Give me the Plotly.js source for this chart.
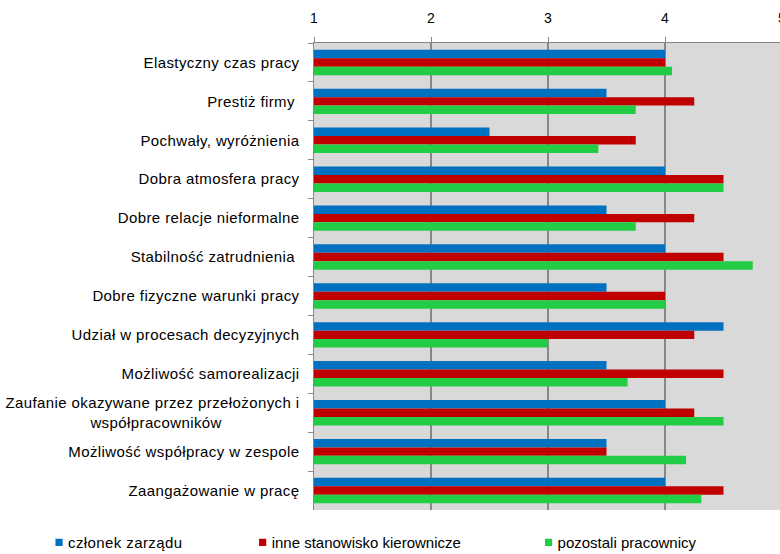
<!DOCTYPE html>
<html>
<head>
<meta charset="utf-8">
<script src="https://cdn.plot.ly/plotly-3.0.1.min.js"></script>
<style>
  html, body { margin: 0; padding: 0; overflow: hidden; background: #fff; }
  #chart { width: 800px; height: 554px; }
  /* slightly looser text, as in the original report graphics */
  #chart .ytick text, #chart .legendtext { letter-spacing: 0.4px; }
  /* smaller legend swatches, placed close to their labels */
  #chart .legendpoints path { transform: translate(31px, 0) scale(0.6); }
</style>
</head>
<body>
<div id="chart"></div>
<script>
// Motivating factors, mean rating (1–5) by respondent group
const categories = [
  "Elastyczny czas pracy",
  "Prestiż firmy ",
  "Pochwały, wyróżnienia",
  "Dobra atmosfera pracy",
  "Dobre relacje nieformalne",
  "Stabilność zatrudnienia ",
  "Dobre fizyczne warunki pracy",
  "Udział w procesach decyzyjnych",
  "Możliwość samorealizacji",
  "Zaufanie okazywane przez przełożonych i<br>współpracowników" + "\u00a0".repeat(17),
  "Możliwość współpracy w zespole",
  "Zaangażowanie w pracę"
];

const seriesNames = ["członek zarządu", "inne stanowisko kierownicze", "pozostali pracownicy"];

const czlonekZarzadu = [4.0, 3.5, 2.5, 4.0, 3.5, 4.0, 3.5, 4.5, 3.5, 4.0, 3.5, 4.0];
const inneKierownicze = [4.0, 4.25, 3.75, 4.5, 4.25, 4.5, 4.0, 4.25, 4.5, 4.25, 3.5, 4.5];
const pozostali = [4.06, 3.75, 3.43, 4.5, 3.75, 4.75, 4.0, 3.0, 3.68, 4.5, 4.18, 4.31];

const xTickValues = [1, 2, 3, 4, 5];

const colors = ["#0070C0", "#C00000", "#22CC44"];
const values = [czlonekZarzadu, inneKierownicze, pozostali];
const legendIds = ["legend", "legend2", "legend3"];

const traces = values.map((v, i) => ({
  type: "bar",
  orientation: "h",
  name: seriesNames[i],
  x: v,
  y: categories,
  base: 0,
  marker: { color: colors[i], line: { width: 0 } },
  legend: legendIds[i],
  hoverinfo: "x+name"
}));

const fontFamily = "Liberation Sans, Arial, sans-serif";

function legendAt(x) {
  return {
    x: x, y: -0.07, xanchor: "left", yanchor: "middle",
    orientation: "h", bgcolor: "rgba(0,0,0,0)",
    font: { family: fontFamily, size: 15, color: "#000" },
    itemwidth: 30
  };
}

const layout = {
  width: 800,
  height: 554,
  margin: { l: 314, r: 18, t: 43, b: 44, pad: 0, autoexpand: false },
  paper_bgcolor: "#ffffff",
  plot_bgcolor: "#d9d9d9",
  font: { family: fontFamily, size: 14, color: "#000" },
  barmode: "group",
  bargap: 0.345,
  bargroupgap: 0,
  showlegend: true,
  legend: legendAt(-0.611),
  legend2: legendAt(-0.176),
  legend3: legendAt(0.435),
  xaxis: {
    side: "top",
    range: [1, 5],
    tickvals: xTickValues,
    ticktext: xTickValues.map(String),
    showgrid: true,
    gridcolor: "#878787",
    gridwidth: 1.5,
    zeroline: false,
    showline: true,
    linecolor: "#878787",
    linewidth: 1.5,
    ticks: "outside",
    ticklen: 5,
    tickcolor: "#878787",
    ticklabelstandoff: 8,
    tickfont: { family: fontFamily, size: 14, color: "#000" },
    fixedrange: true
  },
  yaxis: {
    type: "category",
    autorange: "reversed",
    tickson: "boundaries",
    ticks: "outside",
    ticklen: 5,
    tickcolor: "#878787",
    showgrid: false,
    showline: true,
    linecolor: "#878787",
    linewidth: 1.5,
    ticklabelstandoff: 10,
    tickfont: { family: fontFamily, size: 15, color: "#000" },
    fixedrange: true
  }
};

Plotly.newPlot("chart", traces, layout, { displayModeBar: false, staticPlot: true });
</script>
</body>
</html>
